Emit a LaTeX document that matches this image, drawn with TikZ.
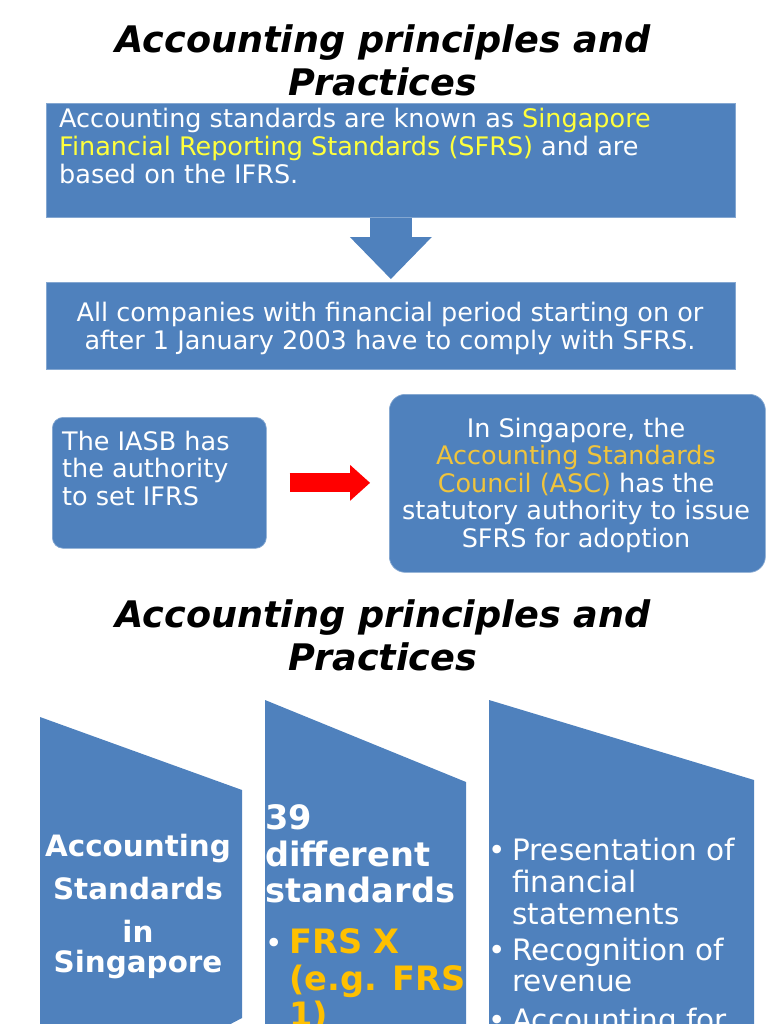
\documentclass[tikz,border=0pt]{standalone}
\usepackage{fontspec}
\setmainfont{DejaVu Sans}
\usetikzlibrary{arrows.meta, positioning}

\definecolor{boxblue}{HTML}{4F81BD}
\definecolor{sfrsyellow}{HTML}{FFFF3C}
\definecolor{ascgold}{HTML}{F0C43C}
\definecolor{frsorange}{HTML}{FFC000}

\begin{document}
\begin{tikzpicture}[x=1pt, y=-1pt,
    bluebox/.style={fill=boxblue, draw=boxblue!70!white, line width=0.7pt, inner sep=0pt},
    bodytext/.style={text=white, inner sep=0pt, font=\fontsize{25.5}{27.6}\selectfont},
    headline/.style={inner sep=0pt, align=center, font=\fontsize{36.6}{43.3}\selectfont\bfseries\itshape},
    stagebold/.style={text=white, inner sep=0pt, font=\fontsize{29.4}{43}\selectfont\bfseries},
    countbold/.style={text=white, inner sep=0pt, font=\fontsize{33.6}{36.5}\selectfont\bfseries},
    itemtext/.style={text=white, inner sep=0pt, align=left, font=\fontsize{29.5}{31.7}\selectfont}]

    \clip (0,0) rectangle (768,1024);

    % Titles
    \node[headline, anchor=north] (title) at (383,24.5) {Accounting principles and\\Practices};
    \node[headline, anchor=north] (title2) at (383,599) {Accounting principles and\\Practices};

    % Boxes
    \node[bluebox, anchor=north west, minimum width=689pt, minimum height=114pt] (sfrs) at (46,103) {};
    \node[bodytext, align=left, anchor=north west] (sfrstext) at (59,108.3)
        {Accounting standards are known as \textcolor{sfrsyellow}{Singapore}\\
         \textcolor{sfrsyellow}{Financial Reporting Standards (SFRS)} and are\\
         based on the IFRS.};

    \node[bluebox, anchor=north west, minimum width=689pt, minimum height=87pt] (comply) at (46,282) {};
    \node[bodytext, align=center, anchor=north] (complytext) at (390,302.3)
        {All companies with financial period starting on or\\
         after 1 January 2003 have to comply with SFRS.};

    \node[bluebox, rounded corners=11pt, anchor=north west, minimum width=214pt, minimum height=131pt] (iasb) at (52,417) {};
    \node[bodytext, align=left, anchor=north west] (iasbtext) at (62,430.6)
        {The IASB has\\the authority\\to set IFRS};

    \node[bluebox, rounded corners=16pt, anchor=north west, minimum width=376pt, minimum height=178pt] (asc) at (389,394) {};
    \node[bodytext, align=center, anchor=north] (asctext) at (576,417.6)
        {In Singapore, the\\
         \textcolor{ascgold}{Accounting Standards}\\
         \textcolor{ascgold}{Council (ASC)} has the\\
         statutory authority to issue\\
         SFRS for adoption};

    % Block arrows
    \draw[line width=42pt, boxblue, -{Triangle[width=82pt, length=42pt, line width=0pt]}, shorten >=3pt]
        (sfrs.south) -- (comply.north);
    \draw[line width=19pt, red, -{Triangle[width=36pt, length=20pt, line width=0pt]}, shorten <=23pt, shorten >=19pt]
        (iasb.east) -- (iasb.east -| asc.west);

    % Lower shapes
    \fill[boxblue] (40,717) -- (242,790) -- (242,1018) -- (200,1040) -- (40,1040) -- cycle;
    \fill[boxblue] (265,700) -- (466,782) -- (466,1040) -- (265,1040) -- cycle;
    \fill[boxblue] (489,700) -- (754,780) -- (754,1040) -- (489,1040) -- cycle;

    \node[stagebold, align=center, anchor=north] (stage) at (138,834.4)
        {Accounting\\Standards\\in\\[-13pt]Singapore};

    \node[countbold, align=left, anchor=north west] (count) at (265,804.5)
        {39\\different\\standards};
    \node[itemtext, anchor=base west] (frsdot) at (265,953) {\textbullet};
    \node[countbold, text=frsorange, align=left, anchor=north west] (frs) at (289,928.5)
        {FRS X\\(e.g. FRS\\1)};

    \node[itemtext, anchor=base west] (dotA) at (488,860.7) {\textbullet};
    \node[itemtext, anchor=north west] (itemA) at (512,838.3) {Presentation of\\financial\\statements};
    \node[itemtext, anchor=base west] (dotB) at (488,960) {\textbullet};
    \node[itemtext, anchor=north west] (itemB) at (512,937.6) {Recognition of\\revenue};
    \node[itemtext, anchor=base west] (dotC) at (488,1030) {\textbullet};
    \node[itemtext, anchor=north west] (itemC) at (512,1007.6) {Accounting for};
\end{tikzpicture}
\end{document}
